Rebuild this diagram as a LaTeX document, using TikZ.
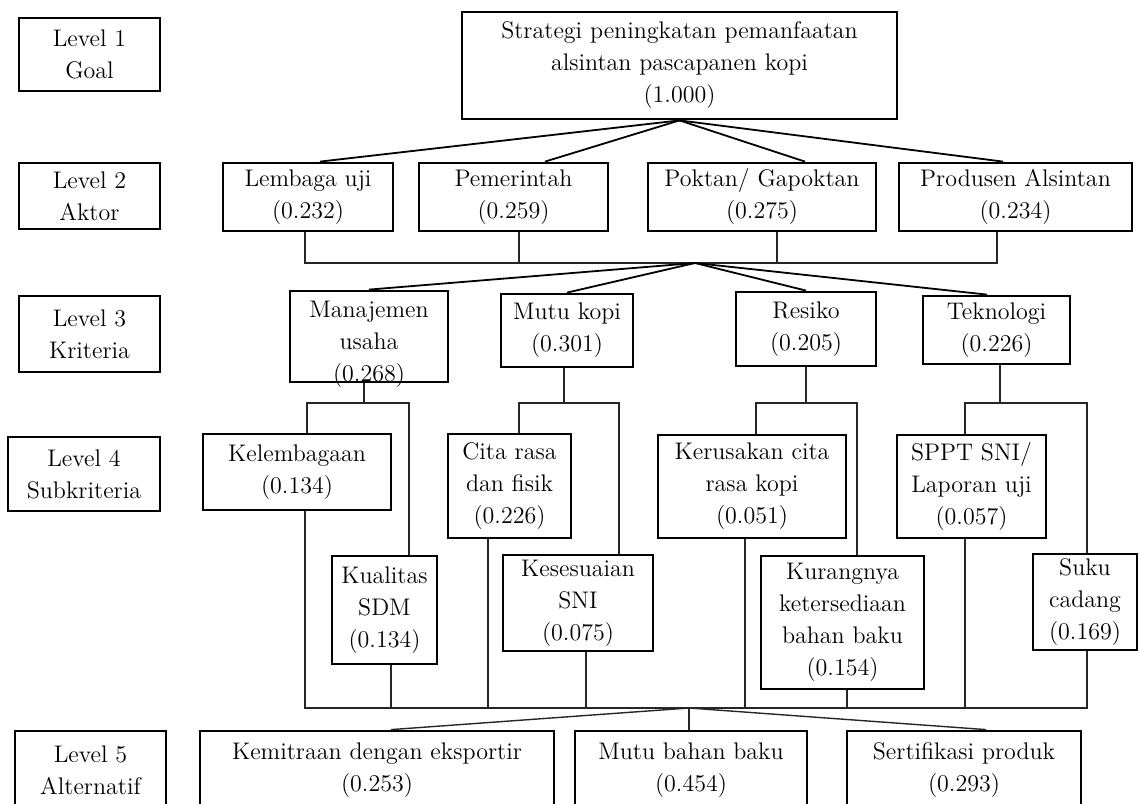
\documentclass[tikz,border=0pt]{standalone}
\usepackage{fontspec}
\begin{document}
\begin{tikzpicture}[x=0.5pt,y=-0.5pt,
    box/.style={draw, line width=1.4pt, align=center, inner sep=0pt, font=\fontsize{12}{16}\selectfont},
    txt/.style={align=center, inner sep=0pt, font=\fontsize{12}{16}\selectfont},
    sz/.style 2 args={minimum width=#1*0.5pt, minimum height=#2*0.5pt},
    link/.style={line width=0.9pt},
    tie/.style={line width=0.7pt, black!85}]
            \useasboundingbox (0,0) rectangle (1139,803);
            \clip (0,0) rectangle (1139,803);
            \node[box, sz={141}{73}] (lv1) at (89.5,54.5) {Level 1\\Goal};
            \node[box, sz={141}{66}] (lv2) at (89.5,196) {Level 2\\Aktor};
            \node[box, sz={141}{76}] (lv3) at (89.5,334) {Level 3\\Kriteria};
            \node[box, sz={152}{74}] (lv4) at (84,474) {Level 4\\Subkriteria};
            \node[box, sz={151}{79}] (lv5) at (90.5,770.5) {Level 5\\Alternatif};
            \node[box, sz={435}{107}] (goal) at (679.5,65.5) {Strategi peningkatan pemanfaatan\\alsintan pascapanen kopi\\(1.000)};
            \node[box, sz={170}{68}] (a1) at (308,197) {Lembaga uji\\(0.232)};
            \node[box, sz={189}{68}] (a2) at (513.5,197) {Pemerintah\\(0.259)};
            \node[box, sz={228}{68}] (a3) at (762,197) {Poktan/ Gapoktan\\(0.275)};
            \node[box, sz={233}{68}] (a4) at (1015.5,197) {Produsen Alsintan\\(0.234)};
            \node[box, sz={158}{91}] (k1) at (369,336.5) {};
            \node[txt] (k1txt) at (369,344) {Manajemen\\usaha\\(0.268)};
            \node[box, sz={132}{73}] (k2) at (567,330.5) {Mutu kopi\\(0.301)};
            \node[box, sz={140}{74}] (k3) at (806,329) {Resiko\\(0.205)};
            \node[box, sz={147}{68}] (k4) at (996.5,330) {Teknologi\\(0.226)};
            \node[box, sz={188}{76}] (s1) at (297,472) {Kelembagaan\\(0.134)};
            \node[box, sz={105}{108}] (s2) at (384.5,610) {Kualitas\\SDM\\(0.134)};
            \node[box, sz={123}{104}] (s3) at (509.5,486) {Cita rasa\\dan fisik\\(0.226)};
            \node[box, sz={150}{96}] (s4) at (578,603) {Kesesuaian\\SNI\\(0.075)};
            \node[box, sz={188}{103}] (s5) at (752,486.5) {Kerusakan cita\\rasa kopi\\(0.051)};
            \node[box, sz={163}{133}] (s6) at (842.5,622.5) {Kurangnya\\ketersediaan\\bahan baku\\(0.154)};
            \node[box, sz={149}{103}] (s7) at (971.5,486.5) {SPPT SNI/\\Laporan uji\\(0.057)};
            \node[box, sz={104}{96}] (s8) at (1085,602) {Suku\\cadang\\(0.169)};
            \node[box, sz={354}{79}] (alt1) at (377,770.5) {Kemitraan dengan eksportir\\(0.253)};
            \node[box, sz={232}{79}] (alt2) at (691,770.5) {Mutu bahan baku\\(0.454)};
            \node[box, sz={234}{79}] (alt3) at (964,770.5) {Sertifikasi produk\\(0.293)};
            \coordinate (t1) at (320,163);
            \coordinate (t2) at (545,163);
            \coordinate (t3) at (805,163);
            \coordinate (t4) at (1003,163);
            \draw[link] (goal.south) -- (a1.north -| t1);
            \draw[link] (goal.south) -- (a2.north -| t2);
            \draw[link] (goal.south) -- (a3.north -| t3);
            \draw[link] (goal.south) -- (a4.north -| t4);
            \coordinate (hubA) at (695,263);
            \coordinate (j1) at (305,263);
            \coordinate (j2) at (519,263);
            \coordinate (j3) at (777,263);
            \coordinate (j4) at (997,263);
            \draw[tie] (a1.south -| j1) -- (j1) -- (j4) -- (a4.south -| j4);
            \draw[tie] (a2.south -| j2) -- (j2);
            \draw[tie] (a3.south -| j3) -- (j3);
            \coordinate (u4) at (987,296);
            \draw[link] (hubA) -- (k1.north);
            \draw[link] (hubA) -- (k2.north);
            \draw[link] (hubA) -- (k3.north);
            \draw[link] (hubA) -- (k4.north -| u4);
            \coordinate (m1) at (364,403);
            \coordinate (m2) at (564,403);
            \coordinate (m3) at (806,403);
            \coordinate (m4) at (1000,403);
            \coordinate (l1) at (307,403);
            \coordinate (r1) at (409,403);
            \coordinate (l2) at (519,403);
            \coordinate (r2) at (619,403);
            \coordinate (l3) at (756,403);
            \coordinate (r3) at (857,403);
            \coordinate (l4) at (965,403);
            \coordinate (r4) at (1087,403);
            \draw[tie] (k1.south -| m1) -- (m1);
            \draw[tie] (k2.south -| m2) -- (m2);
            \draw[tie] (k3.south -| m3) -- (m3);
            \draw[tie] (k4.south -| m4) -- (m4);
            \draw[tie] (s1.north -| l1) -- (l1) -- (r1) -- (s2.north -| r1);
            \draw[tie] (s3.north -| l2) -- (l2) -- (r2) -- (s4.north -| r2);
            \draw[tie] (s5.north -| l3) -- (l3) -- (r3) -- (s6.north -| r3);
            \draw[tie] (s7.north -| l4) -- (l4) -- (r4) -- (s8.north -| r4);
            \coordinate (hubB) at (689,708);
            \coordinate (q1) at (305,708);
            \coordinate (q2) at (391,708);
            \coordinate (q3) at (488,708);
            \coordinate (q4) at (586,708);
            \coordinate (q5) at (745,708);
            \coordinate (q6) at (847,708);
            \coordinate (q7) at (965,708);
            \coordinate (q8) at (1087,708);
            \draw[tie] (s1.south -| q1) -- (q1) -- (q8) -- (s8.south -| q8);
            \draw[tie] (s2.south -| q2) -- (q2);
            \draw[tie] (s3.south -| q3) -- (q3);
            \draw[tie] (s4.south -| q4) -- (q4);
            \draw[tie] (s5.south -| q5) -- (q5);
            \draw[tie] (s6.south -| q6) -- (q6);
            \draw[tie] (s7.south -| q7) -- (q7);
            \coordinate (e1) at (391,731);
            \coordinate (e3) at (986,731);
            \draw[tie] (hubB) -- (alt1.north -| e1);
            \draw[tie] (hubB) -- (alt2.north -| hubB);
            \draw[tie] (hubB) -- (alt3.north -| e3);
\end{tikzpicture}
\end{document}
